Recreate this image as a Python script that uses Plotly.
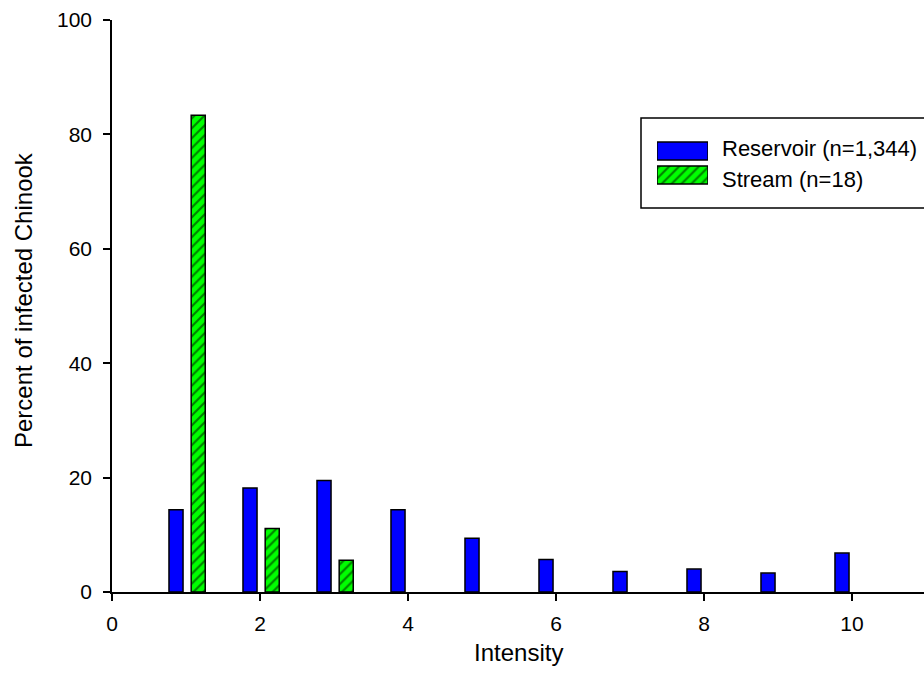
import plotly.graph_objects as go

# Infection intensity distribution for Chinook salmon
intensity = [1, 2, 3, 4, 5, 6, 7, 8, 9, 10]
reservoir_pct = [14.4, 18.2, 19.5, 14.4, 9.4, 5.7, 3.6, 4.0, 3.3, 6.8]
stream_intensity = [1, 2, 3]
stream_pct = [83.33, 11.11, 5.56]

series_names = ["Reservoir (n=1,344)", "Stream (n=18)"]
x_ticks = [0, 2, 4, 6, 8, 10]
y_ticks = [0, 20, 40, 60, 80, 100]
x_title = "Intensity"
y_title = "Percent of infected Chinook"

FONT = "Liberation Sans, Arial, sans-serif"
BLUE = "#0000FF"
GREEN = "#00FF00"
W, H = 924, 690
ML, MR, MT, MB = 112, 0, 20, 98
PW, PH = W - ML - MR, H - MT - MB


def px_x(p):
    return (p - ML) / PW


def px_y(p):
    return (H - MB - p) / PH


fig = go.Figure()

fig.add_trace(go.Bar(
    x=intensity, y=reservoir_pct, name=series_names[0],
    width=0.19, offset=-0.23,
    marker=dict(color=BLUE, line=dict(color="black", width=1.5)),
    showlegend=False,
))
fig.add_trace(go.Bar(
    x=stream_intensity, y=stream_pct, name=series_names[1],
    width=0.19, offset=0.07,
    marker=dict(color=GREEN, line=dict(color="black", width=1.5),
                pattern=dict(shape="/", fgcolor="black", bgcolor=GREEN,
                             size=7, solidity=0.3)),
    showlegend=False,
))

# Legend swatches drawn as bars in a small inset axis
fig.add_trace(go.Bar(
    x=[1], y=[1], base=0, orientation="h", width=0.75,
    marker=dict(color=BLUE, line=dict(color="black", width=1.5)),
    xaxis="x2", yaxis="y2", showlegend=False, hoverinfo="skip",
))
fig.add_trace(go.Bar(
    x=[1], y=[0], base=0, orientation="h", width=0.75,
    marker=dict(color=GREEN, line=dict(color="black", width=1.5),
                pattern=dict(shape="/", fgcolor="black", bgcolor=GREEN,
                             size=7, solidity=0.3)),
    xaxis="x2", yaxis="y2", showlegend=False, hoverinfo="skip",
))

axis_common = dict(
    showgrid=False, zeroline=False, showline=True, linecolor="black",
    linewidth=1.5, ticks="outside", ticklen=7, tickwidth=1.5,
    tickcolor="black", tickfont=dict(family=FONT, size=21, color="black"),
)

fig.update_layout(
    width=W, height=H,
    margin=dict(l=ML, r=MR, t=MT, b=MB, pad=0),
    paper_bgcolor="white", plot_bgcolor="white",
    barmode="overlay",
    font=dict(family=FONT, size=21, color="black"),
    xaxis=dict(range=[0, PW / 74.0], tickvals=x_ticks,
               ticklabelstandoff=5, **axis_common),
    yaxis=dict(range=[0, 100], tickvals=y_ticks,
               ticklabelstandoff=7, **axis_common),
    xaxis2=dict(domain=[px_x(657), px_x(708)], range=[0, 1], visible=False,
                anchor="y2", fixedrange=True),
    yaxis2=dict(domain=[px_y(187), px_y(139)], range=[-0.5, 1.5],
                visible=False, anchor="x2", fixedrange=True),
    showlegend=False,
)

# Axis titles
fig.add_annotation(text=x_title, xref="paper", yref="paper",
                   x=0.5, y=px_y(652), xanchor="center", yanchor="middle",
                   showarrow=False,
                   font=dict(family=FONT, size=24, color="black"))
fig.add_annotation(text=y_title, xref="paper", yref="paper",
                   x=px_x(23), y=px_y(300), xanchor="center",
                   yanchor="middle", textangle=-90, showarrow=False,
                   font=dict(family=FONT, size=24, color="black"))

# Legend frame and labels
fig.add_shape(type="rect", xref="paper", yref="paper",
              x0=px_x(641), x1=px_x(940), y0=px_y(208), y1=px_y(118),
              line=dict(color="black", width=1.5), fillcolor="rgba(0,0,0,0)",
              layer="above")
for name, ypx in zip(series_names, [148, 179]):
    fig.add_annotation(text=name, xref="paper", yref="paper",
                       x=px_x(720), y=px_y(ypx), xanchor="left",
                       yanchor="middle", showarrow=False,
                       font=dict(family=FONT, size=22, color="black"))

fig.write_html("out.html")
